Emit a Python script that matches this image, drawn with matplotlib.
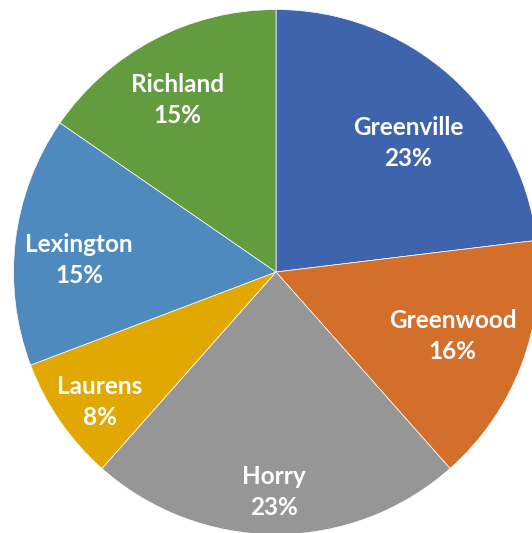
import numpy as np
import matplotlib.pyplot as plt

counties = ['Greenville', 'Greenwood', 'Horry', 'Laurens', 'Lexington', 'Richland']
counts = [3, 2, 3, 1, 2, 2]
pct_labels = ['23%', '16%', '23%', '8%', '15%', '15%']
colors = ['#3D64AD', '#D46E2B', '#969696', '#E0A800', '#4F8ABF', '#639B3F']

# label placement (fraction of radius, angle nudge in degrees) - mimics Excel's layout
label_r = [0.703, 0.715, 0.838, 0.835, 0.752, 0.756]
label_nudge = [-4.2, 0.9, -0.5, 1.8, 3.4, 2.2]

fig = plt.figure(figsize=(5.32, 5.33), dpi=100)
ax = fig.add_axes([0, 0, 1, 1])
wedges, _ = ax.pie(counts, colors=colors, startangle=90, counterclock=False,
                   radius=1, center=(0, 0),
                   wedgeprops=dict(edgecolor='white', linewidth=0.5))

for w, name, pct, r, nd in zip(wedges, counties, pct_labels, label_r, label_nudge):
    mid = np.deg2rad((w.theta1 + w.theta2) / 2 + nd)
    x, y = r * np.cos(mid), r * np.sin(mid)
    ax.text(x, y, f'{name}\n{pct}', ha='center', va='center',
            color='white', fontsize=17.5, fontweight='bold', family='Lato',
            linespacing=1.42)

R = 262.5
ax.set_xlim(-276 / R, 256 / R)
ax.set_ylim(-261 / R, 272 / R)
ax.set_aspect('auto')
ax.axis('off')

fig.savefig('out.png', dpi=100)
